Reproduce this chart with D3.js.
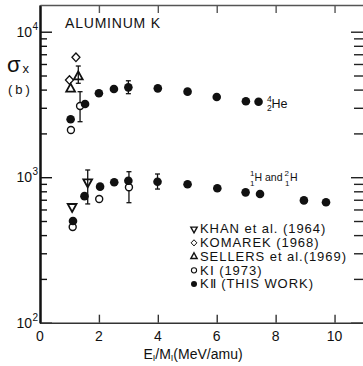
<!DOCTYPE html>
<html>
<head>
<meta charset="utf-8">
<script src="https://cdn.jsdelivr.net/npm/d3@7"></script>
<style>
  html, body { margin: 0; padding: 0; background: #fff; }
  svg { display: block; }
  text { font-family: "Liberation Sans", Arial, sans-serif; fill: #111; }
</style>
</head>
<body>
<svg id="chart" width="363" height="366"></svg>
<script>
// ---- axis extents and tick labels ----
const energyMax = 11;                       // E_I/M_I (MeV/amu)
const sigmaMin = 100, sigmaMax = 15260;     // sigma_x (b)
const energyTicks = [0, 2, 4, 6, 8, 10];
const sigmaDecades = [100, 1000, 10000];
const sigmaExponents = ["2", "3", "4"];

// ---- KHAN et al. (1964) ----
const khanEnergy = [1.09, 1.62];
const khanSigma  = [627, 927];
const khanLow    = [null, 655];
const khanHigh   = [null, 1121];

// ---- KOMAREK (1968) ----
const komarekEnergy = [1.00, 1.22];
const komarekSigma  = [4655, 6670];

// ---- SELLERS et al. (1969) ----
const sellersEnergy = [1.04, 1.30];
const sellersSigma  = [4040, 4910];
const sellersLow    = [null, 4420];
const sellersHigh   = [null, 5810];

// ---- KI (1973) ----
const k1Energy = [1.05, 1.36, 1.11, 2.01, 3.02];
const k1Sigma  = [2110, 3083, 455, 708, 852];
const k1Low    = [null, 2407, null, null, 668];
const k1High   = [null, 3870, null, null, 1091];

// ---- KII (this work), 4He ions ----
const k2HeEnergy = [1.04, 1.53, 2.00, 2.51, 3.00, 4.00, 5.01, 6.00, 6.99, 7.42];
const k2HeSigma  = [2500, 3185, 3777, 4040, 4146, 4080, 3873, 3556, 3323, 3304];
const k2HeLow    = [null, null, null, null, 3750, null, null, null, null, null];
const k2HeHigh   = [null, null, null, null, 4600, null, null, null, null, null];

// ---- KII (this work), 1H and 2H ions ----
const k2HEnergy = [1.12, 1.51, 2.04, 2.52, 3.00, 3.99, 5.01, 6.02, 6.98, 7.47, 8.96, 9.71];
const k2HSigma  = [500, 741, 861, 923, 946, 931, 894, 839, 787, 767, 693, 672];
const k2HLow    = [null, null, null, null, null, 829, null, null, null, null, null, null];
const k2HHigh   = [null, null, null, null, null, 1052, null, null, null, null, null, null];

// ---- legend ----
const legendLabels = ["KHAN et al. (1964)", "KOMAREK (1968)", "SELLERS et al.(1969)", "K\u2160 (1973)", "K\u2161 (THIS WORK)"];
const legendMarks  = ["triDown", "diamond", "triUp", "open", "filled"];

// ---------------------------------------------------------------
const svg = d3.select("#chart");
const plotLeft = 40, plotRight = 364, plotTop = 5, plotBottom = 322.7;

const x = d3.scaleLinear().domain([0, energyMax]).range([plotLeft, plotRight]);
const y = d3.scaleLog().domain([sigmaMin, sigmaMax]).range([plotBottom, plotTop]);

const zip = (xs, ys, lo, hi) => xs.map((e, i) => ({
  e, s: ys[i], lo: lo ? lo[i] : null, hi: hi ? hi[i] : null
}));

const khan    = zip(khanEnergy, khanSigma, khanLow, khanHigh);
const komarek = zip(komarekEnergy, komarekSigma);
const sellers = zip(sellersEnergy, sellersSigma, sellersLow, sellersHigh);
const k1      = zip(k1Energy, k1Sigma, k1Low, k1High);
const k2      = zip(k2HeEnergy, k2HeSigma, k2HeLow, k2HeHigh)
                  .concat(zip(k2HEnergy, k2HSigma, k2HLow, k2HHigh));

// marker shapes
function markPath(kind, s) {
  if (kind === "triUp")   return `M0,${-5.3*s}L${4.4*s},${2.7*s}L${-4.4*s},${2.7*s}Z`;
  if (kind === "triDown") return `M0,${5.3*s}L${4.4*s},${-2.7*s}L${-4.4*s},${-2.7*s}Z`;
  if (kind === "diamond") return `M0,${-4.3*s}L${4*s},0L0,${4.3*s}L${-4*s},0Z`;
  return null;
}

// ---- axes ----
const minorTicks = y.ticks().filter(v => !sigmaDecades.includes(v));

function styleAxis(g, width, color) {
  g.select(".domain").attr("stroke", color).attr("stroke-width", width);
  g.selectAll(".tick line").attr("stroke", color).attr("stroke-width", 1.4);
  g.selectAll(".tick text").remove();
}

// left
svg.append("g").attr("transform", `translate(${plotLeft},0)`)
  .call(d3.axisLeft(y).tickValues(minorTicks).tickSizeInner(-7).tickSizeOuter(0).tickFormat(""))
  .call(g => styleAxis(g, 2, "#111"));
svg.append("g").attr("transform", `translate(${plotLeft},0)`)
  .call(d3.axisLeft(y).tickValues(sigmaDecades).tickSizeInner(-12).tickSizeOuter(0).tickFormat(""))
  .call(g => styleAxis(g, 2, "#111"));

// right
svg.append("g").attr("transform", `translate(${plotRight},0)`)
  .call(d3.axisRight(y).tickValues(minorTicks).tickSizeInner(-10).tickSizeOuter(0).tickFormat(""))
  .call(g => styleAxis(g, 1.5, "#222"));
svg.append("g").attr("transform", `translate(${plotRight},0)`)
  .call(d3.axisRight(y).tickValues(sigmaDecades).tickSizeInner(-13).tickSizeOuter(0).tickFormat(""))
  .call(g => styleAxis(g, 1.5, "#222"));

// bottom
svg.append("g").attr("transform", `translate(0,${plotBottom})`)
  .call(d3.axisBottom(x).tickValues(energyTicks.filter(v => v > 0)).tickSizeInner(-8).tickSizeOuter(0).tickFormat(""))
  .call(g => styleAxis(g, 1.5, "#333"));

// top
svg.append("g").attr("transform", `translate(0,${plotTop})`)
  .call(d3.axisTop(x).tickValues(energyTicks.filter(v => v > 0)).tickSizeInner(-8).tickSizeOuter(0).tickFormat(""))
  .call(g => styleAxis(g, 1.3, "#555"));

// y tick labels: 10^n
sigmaDecades.forEach((v, i) => {
  svg.append("text").attr("x", 32).attr("y", y(v) + 5)
    .attr("text-anchor", "end").attr("font-size", 14).text("10");
  svg.append("text").attr("x", 32.5).attr("y", y(v) - 2)
    .attr("font-size", 10).text(sigmaExponents[i]);
});

// x tick labels
svg.append("g").selectAll("text").data(energyTicks).join("text")
  .attr("x", d => x(d)).attr("y", 341)
  .attr("text-anchor", "middle").attr("font-size", 14)
  .text(d => String(d));

// x axis title: E_I/M_I(MeV/amu)
const xt = svg.append("text").attr("x", 193).attr("y", 359)
  .attr("text-anchor", "middle").attr("font-size", 14);
xt.append("tspan").text("E");
xt.append("tspan").attr("font-size", 9).attr("dy", 2).text("I");
xt.append("tspan").attr("dy", -2).text("/M");
xt.append("tspan").attr("font-size", 9).attr("dy", 2).text("I");
xt.append("tspan").attr("dy", -2).text("(MeV/amu)");

// y axis title
svg.append("text").attr("x", 7).attr("y", 72).attr("font-size", 22).text("\u03c3");
svg.append("text").attr("x", 22.5).attr("y", 73).attr("font-size", 13).text("x");
svg.append("text").attr("x", 8).attr("y", 94).attr("font-size", 13)
  .attr("letter-spacing", 3).text("(b)");

// panel title
svg.append("text").attr("x", 65).attr("y", 28.3).attr("font-size", 14)
  .attr("letter-spacing", 0.8).text("ALUMINUM K");

// ---- error bars ----
const withErr = [].concat(khan, sellers, k1, k2).filter(d => d.lo != null);
const eb = svg.append("g").attr("stroke", "#111").attr("stroke-width", 1.3);
withErr.forEach(d => {
  const cx = x(d.e);
  eb.append("line").attr("x1", cx).attr("x2", cx).attr("y1", y(d.lo)).attr("y2", y(d.hi));
  eb.append("line").attr("x1", cx - 2.5).attr("x2", cx + 2.5).attr("y1", y(d.lo)).attr("y2", y(d.lo));
  eb.append("line").attr("x1", cx - 2.5).attr("x2", cx + 2.5).attr("y1", y(d.hi)).attr("y2", y(d.hi));
});

// ---- markers ----
svg.append("g").selectAll("circle").data(k1).join("circle")
  .attr("cx", d => x(d.e)).attr("cy", d => y(d.s)).attr("r", 3.5)
  .attr("fill", "#fff").attr("stroke", "#111").attr("stroke-width", 1.4);

svg.append("g").selectAll("path").data(komarek).join("path")
  .attr("transform", d => `translate(${x(d.e)},${y(d.s)})`)
  .attr("d", markPath("diamond", 1))
  .attr("fill", "none").attr("stroke", "#111").attr("stroke-width", 1.3);

svg.append("g").selectAll("path").data(sellers).join("path")
  .attr("transform", d => `translate(${x(d.e)},${y(d.s)})`)
  .attr("d", markPath("triUp", 1))
  .attr("fill", "none").attr("stroke", "#111").attr("stroke-width", 1.8);

svg.append("g").selectAll("path").data(khan).join("path")
  .attr("transform", d => `translate(${x(d.e)},${y(d.s)})`)
  .attr("d", markPath("triDown", 1))
  .attr("fill", "none").attr("stroke", "#111").attr("stroke-width", 1.8);

svg.append("g").selectAll("circle").data(k2).join("circle")
  .attr("cx", d => x(d.e)).attr("cy", d => y(d.s)).attr("r", 4.3)
  .attr("fill", "#111");

// ---- curve labels ----
const he = svg.append("g");
he.append("text").attr("x", 267).attr("y", 102).attr("font-size", 8.5).text("4");
he.append("text").attr("x", 267).attr("y", 111).attr("font-size", 8.5).text("2");
he.append("text").attr("x", 271.5).attr("y", 108.3).attr("font-size", 12.5).text("He");

const hl = svg.append("g");
hl.append("text").attr("x", 250).attr("y", 176).attr("font-size", 8).text("1");
hl.append("text").attr("x", 250).attr("y", 186).attr("font-size", 8).text("1");
hl.append("text").attr("x", 254.5).attr("y", 180.7).attr("font-size", 10.5).text("H");
hl.append("text").attr("x", 265).attr("y", 180.7).attr("font-size", 10.5).text("and");
hl.append("text").attr("x", 284.5).attr("y", 176).attr("font-size", 8).text("2");
hl.append("text").attr("x", 285).attr("y", 186).attr("font-size", 8).text("1");
hl.append("text").attr("x", 290).attr("y", 180.7).attr("font-size", 10.5).text("H");

// ---- legend ----
const legendRows = legendLabels.map((t, i) => ({ t, m: legendMarks[i], i }));
const lg = svg.append("g").attr("transform", "translate(194,233.3)");
const row = lg.selectAll("g").data(legendRows).join("g")
  .attr("transform", d => `translate(0,${d.i * 13.75})`);
row.each(function(d) {
  const g = d3.select(this);
  if (d.m === "filled") {
    g.append("circle").attr("cy", -4.2).attr("r", 3).attr("fill", "#111");
  } else if (d.m === "open") {
    g.append("circle").attr("cy", -4.2).attr("r", 2.6).attr("fill", "none")
      .attr("stroke", "#111").attr("stroke-width", 1.1);
  } else {
    g.append("path").attr("transform", "translate(0,-4.2)")
      .attr("d", markPath(d.m, 0.72)).attr("fill", "none")
      .attr("stroke", "#111").attr("stroke-width", d.m === "diamond" ? 1 : 1.4);
  }
  g.append("text").attr("x", 6).attr("y", 0).attr("font-size", 13)
    .attr("letter-spacing", 0.95).text(d.t);
});
</script>
</body>
</html>
